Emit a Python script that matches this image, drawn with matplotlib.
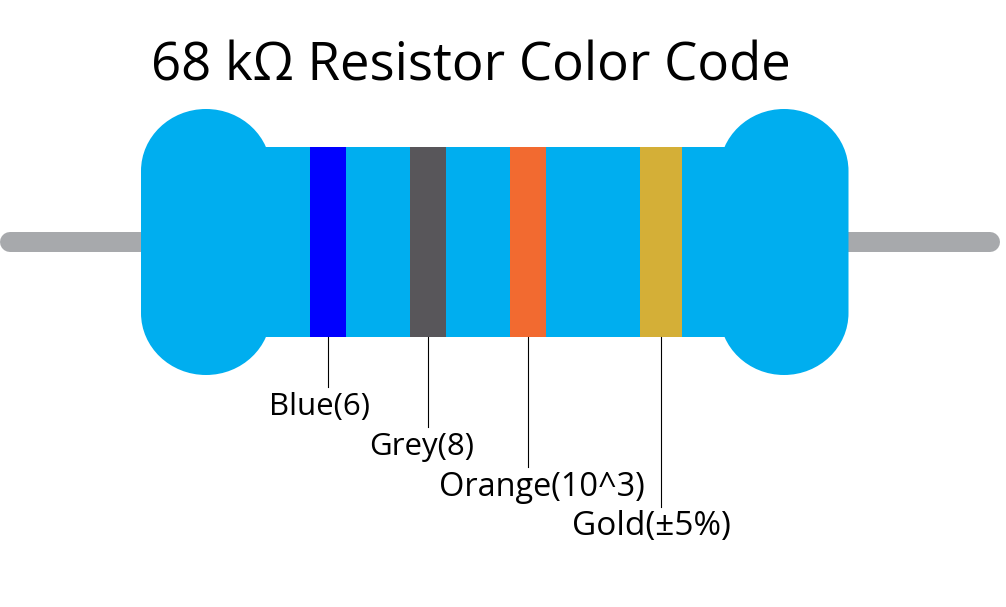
import matplotlib
matplotlib.use("Agg")
import matplotlib.pyplot as plt
from matplotlib.patches import Rectangle, PathPatch
from matplotlib.path import Path

title = "68 kΩ Resistor Color Code"
band_names = ["Blue(6)", "Grey(8)", "Orange(10^3)", "Gold(±5%)"]
band_colors = ["#0000FF", "#58565A", "#F26A30", "#D4AF37"]
band_left = [310, 410, 510, 640]
band_width = [36, 36, 36, 42]
label_left = [269, 369, 439, 572]
label_y = [405, 445, 485, 525]
label_size = [22.5, 22.5, 23.4, 24.0]

BODY = "#00AEEF"
LEAD = "#A7A9AC"

plt.rcParams['font.family'] = ['Open Sans', 'Noto Sans', 'DejaVu Sans']
fig = plt.figure(figsize=(10.06, 6.07), dpi=100, facecolor="white")
ax = fig.add_axes([0, 0, 1, 1])
ax.set_xlim(0, 1006)
ax.set_ylim(607, 0)
ax.axis("off")


def head_path(x0, x1, y0, y1, ry):
    """Stadium outline with elliptical ends, as one closed path."""
    k = 0.5523
    cx, rx = (x0 + x1) / 2, (x1 - x0) / 2
    verts = [(cx, y0),
             (cx + k * rx, y0), (x1, y0 + ry - k * ry), (x1, y0 + ry),
             (x1, y1 - ry),
             (x1, y1 - ry + k * ry), (cx + k * rx, y1), (cx, y1),
             (cx - k * rx, y1), (x0, y1 - ry + k * ry), (x0, y1 - ry),
             (x0, y0 + ry),
             (x0, y0 + ry - k * ry), (cx - k * rx, y0), (cx, y0),
             (cx, y0)]
    codes = [Path.MOVETO,
             Path.CURVE4, Path.CURVE4, Path.CURVE4,
             Path.LINETO,
             Path.CURVE4, Path.CURVE4, Path.CURVE4,
             Path.CURVE4, Path.CURVE4, Path.CURVE4,
             Path.LINETO,
             Path.CURVE4, Path.CURVE4, Path.CURVE4,
             Path.CLOSEPOLY]
    return Path(verts, codes)


# lead wire: 20 px thick with round ends
ax.plot([10, 990], [242, 242], color=LEAD, lw=20 * 72 / 100,
        solid_capstyle="round", zorder=1)
# body
ax.add_patch(Rectangle((200, 147), 600, 190, fc=BODY, ec="none", zorder=2))
for x0, x1 in ((141, 271), (719.5, 848.5)):
    ax.add_patch(PathPatch(head_path(x0, x1, 109, 375, 62), fc=BODY, ec="none", zorder=2))
# bands, leader lines, labels
for name, c, l, w, x, y, fs in zip(band_names, band_colors, band_left, band_width,
                                   label_left, label_y, label_size):
    ax.add_patch(Rectangle((l, 147), w, 190, fc=c, ec="none", zorder=3))
    cx = l + w / 2
    ax.plot([cx, cx], [337, y - 18], color="black", lw=0.8, zorder=3)
    ax.text(x, y + 2, name, fontsize=fs, ha="left", va="center", color="black", zorder=4)

ax.text(151, 60, title, fontsize=38, ha="left", va="center_baseline", color="black")
fig.savefig("out.png", dpi=100)
